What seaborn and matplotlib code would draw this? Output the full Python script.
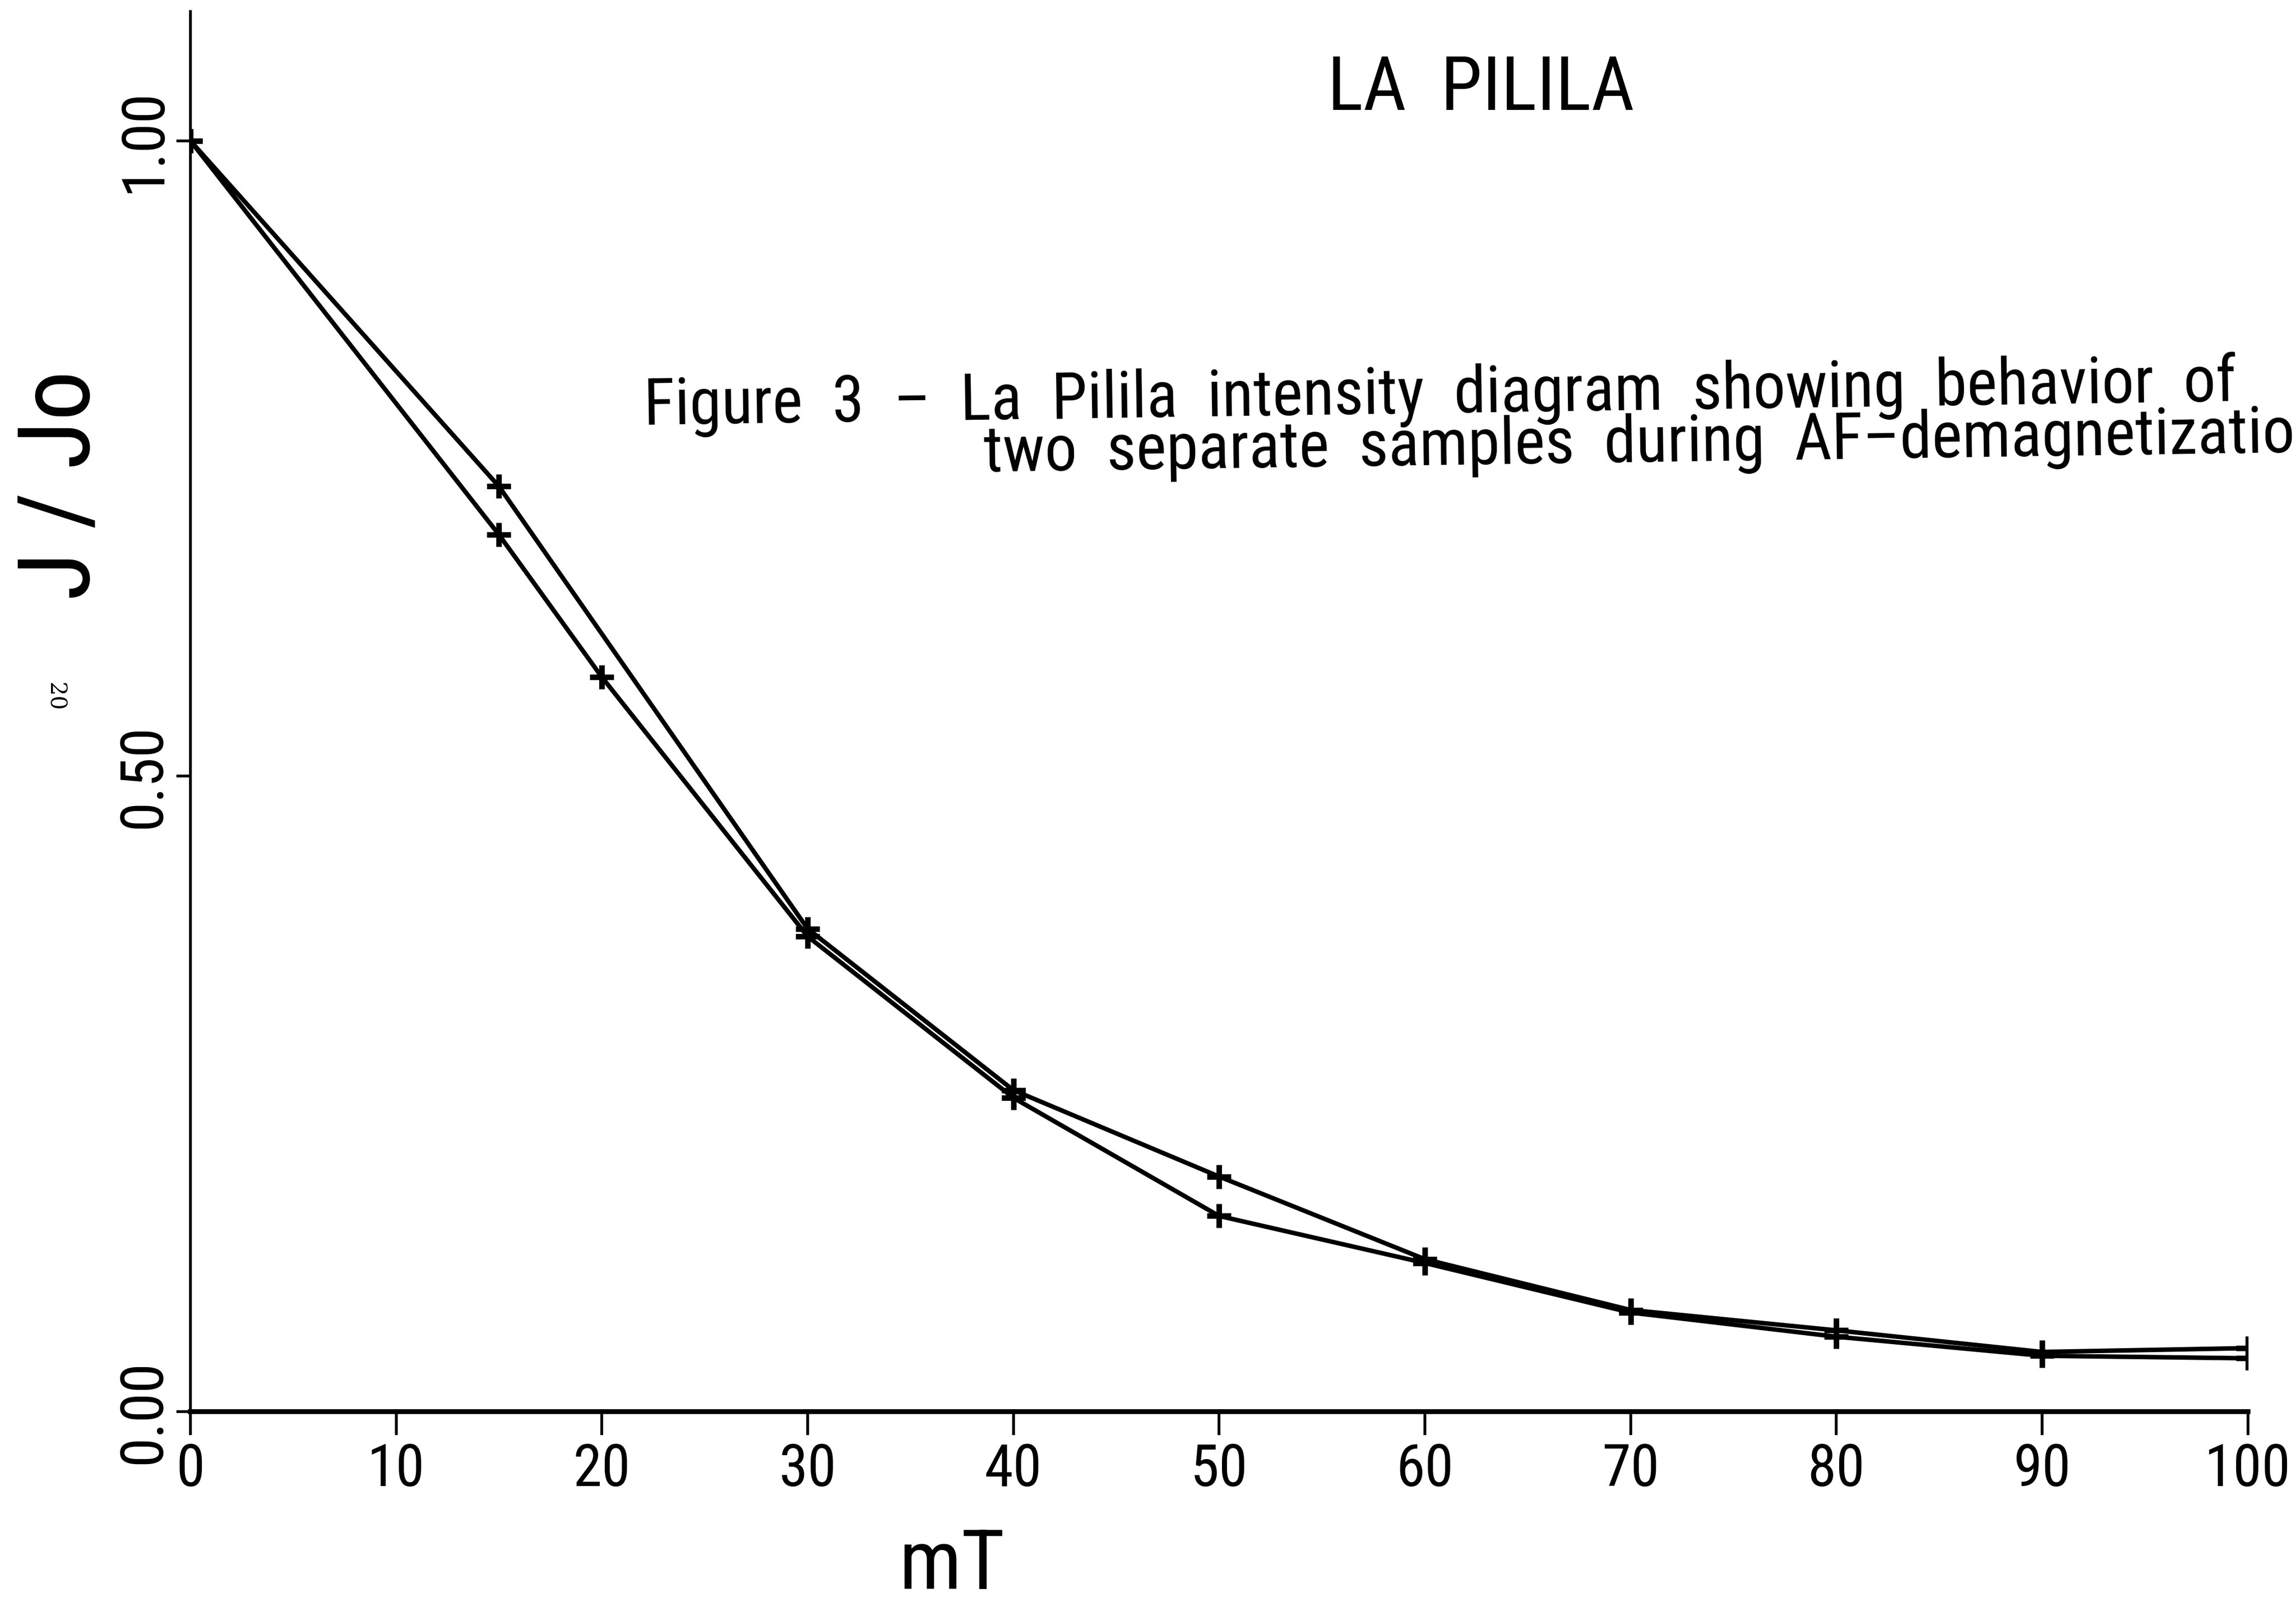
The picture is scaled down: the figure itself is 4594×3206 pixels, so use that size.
import matplotlib
matplotlib.use("Agg")
import matplotlib.pyplot as plt
from matplotlib import font_manager
import seaborn as sns
import pandas as pd

# AF demagnetization steps (mT) and normalized intensity J/Jo for two samples
field_a = [0, 15, 30, 40, 50, 60, 70, 80, 90, 100]
sample_a = [1.00, 0.728, 0.380, 0.253, 0.185, 0.120, 0.080, 0.064, 0.047, 0.050]
field_b = [0, 15, 20, 30, 40, 50, 60, 70, 80, 90, 100]
sample_b = [1.00, 0.690, 0.578, 0.374, 0.247, 0.154, 0.117, 0.078, 0.059, 0.044, 0.042]

x_ticks = [0, 10, 20, 30, 40, 50, 60, 70, 80, 90, 100]
y_ticks = [0.0, 0.5, 1.0]
y_tick_labels = ["0.00", "0.50", "1.00"]

title_text = "LA  PILILA"
caption_1 = "Figure  3  \u2013  La  Pilila  intensity  diagram  showing  behavior  of"
caption_2 = "two  separate  samples  during  AF\u2013demagnetization"

df = pd.DataFrame({
    "mT": field_a + field_b,
    "J/Jo": sample_a + sample_b,
    "sample": ["A"] * len(field_a) + ["B"] * len(field_b),
})

sns.set_theme(style="ticks")
available = {f.name for f in font_manager.fontManager.ttflist}
candidates = ["Liberation Sans Narrow", "Roboto Condensed", "Open Sans Condensed",
              "DejaVu Sans Condensed", "Roboto"]
narrow = next((c for c in candidates if c in available), "DejaVu Sans")
fam = [narrow, "DejaVu Sans"]
plt.rcParams["font.family"] = fam
for key in ("text.color", "axes.labelcolor", "xtick.color", "ytick.color", "axes.edgecolor"):
    plt.rcParams[key] = "black"

fig = plt.figure(figsize=(45.94, 32.06), dpi=100)
fig.patch.set_facecolor("white")
renderer = fig.canvas.get_renderer()


def fitted(text, max_size, target_px, family=fam):
    """Font size giving the requested rendered width, capped at max_size."""
    probe = fig.text(0, 0, text, fontsize=100, family=family)
    width = probe.get_window_extent(renderer).width
    probe.remove()
    return min(max_size, 100 * target_px / width)


ax = fig.add_axes([0.0829, 0.1188, 0.8961, 0.8739])
ax.set_facecolor("white")

sns.lineplot(
    data=df, x="mT", y="J/Jo", hue="sample", style="sample",
    palette=["black", "black"], markers=["+", "+"], dashes=False,
    linewidth=6.5, markersize=34, markeredgewidth=8, markeredgecolor="black",
    legend=False, ax=ax, sort=False,
)

ax.set_xlim(0, 100)
ax.set_ylim(0, 1.1015)
ax.set_xticks(x_ticks)
ax.set_xticklabels([str(v) for v in x_ticks], fontsize=fitted("100", 84, 186))
ax.set_yticks(y_ticks)
ax.set_yticklabels(y_tick_labels, fontsize=fitted("1.00", 86, 226), rotation=90,
                   va="center")
ax.tick_params(axis="x", direction="out", length=34, width=4, pad=10)
ax.tick_params(axis="y", direction="out", length=20, width=4, pad=6)

for side in ("top", "right"):
    ax.spines[side].set_visible(False)
ax.spines["left"].set_linewidth(4)
ax.spines["bottom"].set_linewidth(7)
ax.set_xlabel("")
ax.set_ylabel("")
ax.grid(False)

# axis titles, heading and caption
fig.text(0.027, 0.697, "J / Jo", rotation=90, ha="center", va="center",
         fontsize=fitted("J / Jo", 156, 460))
fig.text(0.4145, 0.008, "mT", ha="center", va="baseline",
         fontsize=fitted("mT", 120, 234))
fig.text(0.024, 0.565, "20", rotation=-90, fontsize=32, ha="center", va="center",
         family="DejaVu Serif")
fig.text(0.645, 0.9314, title_text, ha="center", va="baseline",
         fontsize=fitted(title_text, 108, 624))
cap_size = fitted(caption_1, 96, 3188)
fig.text(0.2806, 0.735, caption_1, fontsize=cap_size, ha="left", va="baseline",
         rotation=0.85, rotation_mode="anchor")
fig.text(0.4286, 0.7055, caption_2, fontsize=cap_size, ha="left", va="baseline",
         rotation=0.85, rotation_mode="anchor")

fig.savefig("out.png", dpi=100, facecolor="white")
